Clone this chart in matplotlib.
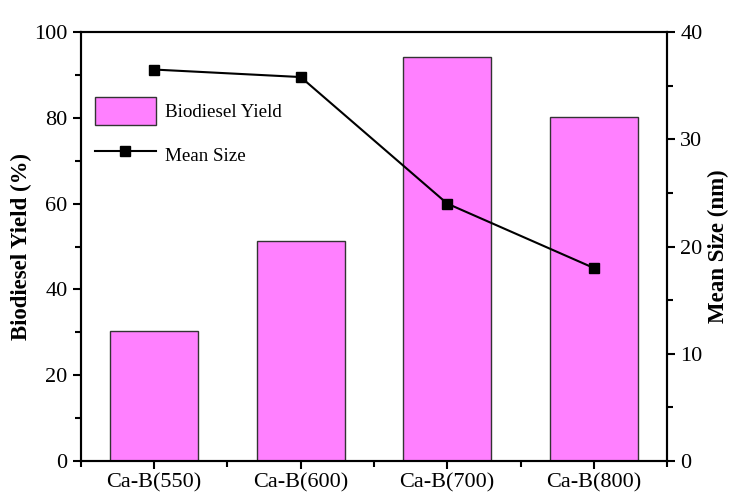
import matplotlib.pyplot as plt
import numpy as np
from matplotlib.ticker import MultipleLocator, FixedLocator

plt.rcParams['font.family'] = ['Liberation Serif', 'DejaVu Serif']

# data
samples = ['Ca-B(550)', 'Ca-B(600)', 'Ca-B(700)', 'Ca-B(800)']
yield_pct = [30.2, 51.2, 94.1, 80.1]
mean_size = [36.5, 35.8, 24.0, 18.0]

x = np.arange(len(samples))

fig = plt.figure(figsize=(7.29, 4.97), dpi=100)
ax = fig.add_axes([0.111, 0.0724, 0.804, 0.8632])
ax2 = ax.twinx()

bars = ax.bar(x, yield_pct, width=0.6, color='#ff80ff', edgecolor='#333333',
              linewidth=1.0, label='Biodiesel Yield')
line, = ax2.plot(x, mean_size, color='black', marker='s', markersize=7,
                 linewidth=1.5, label='Mean Size')

ax.set_xlim(-0.5, 3.5)
ax.set_ylim(0, 100)
ax2.set_ylim(0, 40)

ax.set_xticks(x)
ax.set_xticklabels(samples)
ax.xaxis.set_minor_locator(FixedLocator([-0.5, 0.5, 1.5, 2.5, 3.5]))
ax.yaxis.set_major_locator(MultipleLocator(20))
ax.yaxis.set_minor_locator(MultipleLocator(10))
ax2.yaxis.set_major_locator(MultipleLocator(10))
ax2.yaxis.set_minor_locator(MultipleLocator(5))

for a in (ax, ax2):
    for s in a.spines.values():
        s.set_linewidth(1.5)
    a.tick_params(which='major', direction='out', length=6, width=1.5,
                  labelsize=16)
    a.tick_params(which='minor', direction='out', length=4, width=1.5)
ax.tick_params(axis='x', which='both', top=False)
ax.tick_params(axis='x', pad=3, labelsize=16)

ax.set_ylabel('Biodiesel Yield (%)', fontsize=16.5, fontweight='bold', labelpad=2)
ax2.set_ylabel('Mean Size (nm)', fontsize=16.5, fontweight='bold')

ax.legend([bars, line], ['Biodiesel Yield', 'Mean Size'], loc='upper left',
          bbox_to_anchor=(0.024, 0.848), frameon=False, fontsize=13.7,
          handlelength=3.2, handleheight=1.9, labelspacing=0.8,
          borderpad=0, borderaxespad=0, handletextpad=0.5)

fig.savefig('out.png', dpi=100)
